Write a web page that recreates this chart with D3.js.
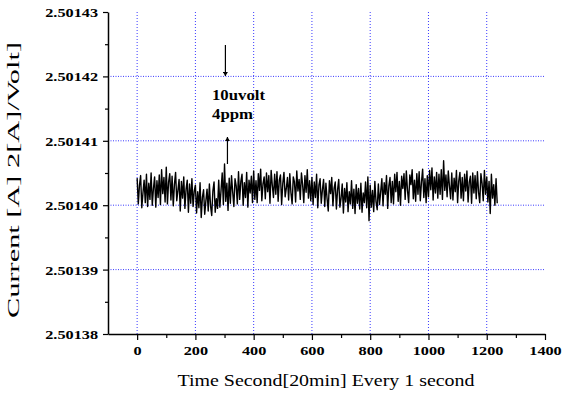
<!DOCTYPE html>
<html>
<head>
<meta charset="utf-8">
<script src="https://cdn.jsdelivr.net/npm/d3@7"></script>
<style>
  body { margin: 0; background: #fff; }
  svg { display: block; font-family: "Liberation Serif", "Times New Roman", serif; }
</style>
</head>
<body>
<svg id="chart" width="562" height="397"></svg>
<script>
// readings taken every 4 s, stored as offset from 2.50140 in units of 1e-6
const baseline = 2.50140;
const sampleStep = 4;
const offsetMicro = [
  4.2, 0.2, 3.1, 4.6, -0.4, 1.9, 3.9, 0.4, 4.8, -0.2,
  3.4, 0.9, 5.0, 0.0, 2.6, 4.4, -0.3, 3.8, 1.2, 4.7,
  0.1, 5.5, 1.8, 4.3, 0.5, 5.9, 0.2, 3.6, 4.9, 0.8,
  4.5, -0.1, 3.2, 5.1, 0.7, 2.3, 4.0, -0.9, 3.7, 1.1,
  4.4, -0.5, 2.5, 3.9, -1.1, 3.3, 0.3, 4.1, -0.2, 2.2,
  3.1, -1.2, 2.1, -0.4, 3.5, -1.9, 1.2, 2.4, -1.4, 0.7,
  2.5, -0.9, 3.3, -0.1, -1.6, 2.2, 3.6, -1.1, 1.0, -0.5,
  3.9, -0.3, 2.3, 5.0, 0.1, 6.4, 0.6, 3.4, -0.8, 4.2,
  0.3, 4.6, 2.0, -0.2, 4.1, 3.0, 0.2, 5.2, 0.9, 3.7,
  4.8, 0.0, 3.5, 1.2, 5.1, -0.3, 3.9, 1.9, 4.5, 0.4,
  5.3, 0.9, 3.8, 0.4, 4.9, 2.3, 5.6, 0.7, 3.3, 4.4,
  1.0, 5.0, 2.1, 4.6, 0.3, 5.4, 3.1, 1.2, 4.8, 1.7,
  5.2, 0.6, 3.9, 4.7, 0.1, 3.4, 5.1, 1.3, 2.6, 4.3,
  0.8, 4.9, 1.9, 0.2, 4.4, 3.6, 0.5, 5.3, 2.2, 4.0,
  0.9, 5.0, 3.2, 0.4, 4.6, 2.0, 5.5, 1.1, 3.8, 0.7,
  4.3, 0.1, 3.6, 1.2, 4.8, -0.4, 3.1, 4.1, 0.3, 2.4,
  4.0, -0.2, 3.4, 1.0, -0.9, 3.8, 1.8, 4.3, -0.1, 2.6,
  3.6, -0.6, 2.4, 4.0, -0.3, 1.1, 3.3, -1.2, 2.6, 0.5,
  3.5, -1.0, 2.1, 0.2, 3.8, -0.5, 2.5, -1.3, 3.2, 0.3,
  2.6, -0.6, 3.4, -1.1, 1.9, 0.4, 3.6, -0.4, 4.4, -2.4,
  3.1, -0.3, 2.3, -1.0, 3.7, 0.5, -0.7, 3.3, 0.1, 2.1,
  4.1, -0.1, 3.5, 1.7, 4.6, -0.5, 3.0, 4.3, 0.4, 3.7,
  0.2, 4.8, 2.1, 5.1, 0.6, 3.7, 0.0, 4.5, 2.6, 4.9,
  0.9, 5.3, 2.3, 0.4, 4.7, 3.2, 5.5, 1.0, 3.9, 0.6,
  4.9, 1.7, 5.2, 0.7, 3.6, 5.6, 1.2, 4.1, 0.4, 4.6,
  1.3, 5.4, 2.4, 5.8, 0.8, 4.4, 1.9, 5.1, 1.1, 4.8,
  1.7, 5.5, 0.9, 6.9, 2.3, 4.7, 1.3, 5.3, 3.0, 1.0,
  5.0, 0.8, 4.2, 2.1, 5.4, 0.4, 3.8, 5.1, 1.1, 4.3,
  0.7, 4.8, 2.2, 5.3, 0.5, 3.6, 4.5, 0.3, 5.0, 1.9,
  4.6, 1.0, 5.2, 2.0, 0.4, 4.9, 3.4, 0.7, 5.4, 1.7,
  4.4, 0.5, 3.7, -1.3, 4.8, 1.1, 3.2, 0.0, 4.1, 0.3
];

const xTicks = [0, 200, 400, 600, 800, 1000, 1200, 1400];
const xMinorTicks = [100, 300, 500, 700, 900, 1100, 1300];
const xGrid = [0, 200, 400, 600, 800, 1000, 1200];
const yTicks = [2.50138, 2.50139, 2.50140, 2.50141, 2.50142, 2.50143];
const yMinorTicks = [2.501385, 2.501395, 2.501405, 2.501415, 2.501425];
const yGrid = [2.50139, 2.50140, 2.50141, 2.50142];

const xTitle = "Time Second[20min] Every 1 second";
const yTitle = "Current  [A]  2[A]/Volt]";
const noteLines = ["10uvolt", "4ppm"];

const svg = d3.select("#chart");
const plotLeft = 108, plotRight = 545, plotTop = 12, plotBottom = 334;
const stretch = 1.25;  // the source image is stretched horizontally

const x = d3.scaleLinear().domain([-100, 1400]).range([plotLeft, plotRight]);
const y = d3.scaleLinear().domain([2.50138, 2.50143]).range([plotBottom, plotTop]);

const series = offsetMicro.map((v, i) => ({ t: i * sampleStep, v: baseline + v * 1e-6 }));

// grid
svg.append("g").selectAll("line").data(xGrid).join("line")
  .attr("x1", d => x(d)).attr("x2", d => x(d))
  .attr("y1", plotTop).attr("y2", plotBottom)
  .attr("stroke", "#3a3aff").attr("stroke-width", 1)
  .attr("stroke-dasharray", "1,2");

svg.append("g").selectAll("line").data(yGrid).join("line")
  .attr("x1", plotLeft).attr("x2", plotRight)
  .attr("y1", d => y(d)).attr("y2", d => y(d))
  .attr("stroke", "#3a3aff").attr("stroke-width", 1)
  .attr("stroke-dasharray", "1,1.5");

// trace
svg.append("path")
  .datum(series)
  .attr("fill", "none")
  .attr("stroke", "#000")
  .attr("stroke-width", 1.4)
  .attr("stroke-linejoin", "round")
  .attr("d", d3.line().x(d => x(d.t)).y(d => y(d.v)));

// axes
const xAxis = svg.append("g")
  .attr("transform", `translate(0,${plotBottom})`)
  .call(d3.axisBottom(x).tickValues(xTicks).tickSize(6).tickSizeOuter(0).tickPadding(6).tickFormat(d3.format("d")));
svg.append("g")
  .attr("transform", `translate(0,${plotBottom})`)
  .call(d3.axisBottom(x).tickValues(xMinorTicks).tickSize(4).tickFormat("").tickSizeOuter(0))
  .call(g => g.select(".domain").remove());

const yAxis = svg.append("g")
  .attr("transform", `translate(${plotLeft},0)`)
  .call(d3.axisLeft(y).tickValues(yTicks).tickSize(5).tickSizeOuter(0).tickPadding(3).tickFormat(d3.format(".5f")));
svg.append("g")
  .attr("transform", `translate(${plotLeft},0)`)
  .call(d3.axisLeft(y).tickValues(yMinorTicks).tickSize(3).tickFormat("").tickSizeOuter(0))
  .call(g => g.select(".domain").remove());

svg.selectAll("g[font-family]").attr("font-family", null).attr("font-size", null);
svg.selectAll(".domain").attr("stroke-width", 1.5);
svg.selectAll(".tick line").attr("stroke-width", 1.2);

xAxis.selectAll("text")
  .attr("font-size", 13).attr("font-weight", "bold")
  .attr("fill", "#000")
  .attr("transform", `scale(${stretch},1)`);

yAxis.selectAll("text")
  .attr("font-size", 13).attr("font-weight", "bold")
  .attr("fill", "#000")
  .attr("dy", "0.34em")
  .attr("transform", `scale(${stretch},1)`);

// axis titles
svg.append("text")
  .attr("x", 326).attr("y", 386)
  .attr("text-anchor", "middle")
  .attr("font-size", 16)
  .attr("textLength", 297).attr("lengthAdjust", "spacingAndGlyphs")
  .text(xTitle);

svg.append("text")
  .attr("transform", "translate(19,180) rotate(-90)")
  .attr("text-anchor", "middle")
  .attr("font-size", 16)
  .attr("textLength", 276).attr("lengthAdjust", "spacingAndGlyphs")
  .text(yTitle);

// annotation
const defs = svg.append("defs");
defs.append("marker")
  .attr("id", "head").attr("viewBox", "0 0 8 10")
  .attr("refX", 8).attr("refY", 5)
  .attr("markerWidth", 8).attr("markerHeight", 5)
  .attr("markerUnits", "userSpaceOnUse")
  .attr("orient", "auto")
  .append("path").attr("d", "M0,0 L8,5 L0,10 Z").attr("fill", "#000");

svg.append("line")
  .attr("x1", x(303)).attr("x2", x(303))
  .attr("y1", 45).attr("y2", 76)
  .attr("stroke", "#000").attr("stroke-width", 1.2)
  .attr("marker-end", "url(#head)");

svg.append("line")
  .attr("x1", x(310)).attr("x2", x(310))
  .attr("y1", 164).attr("y2", 137)
  .attr("stroke", "#000").attr("stroke-width", 1.2)
  .attr("marker-end", "url(#head)");

svg.append("g").selectAll("text").data(noteLines).join("text")
  .attr("x", 212).attr("y", (d, i) => 100 + i * 19)
  .attr("font-size", 15).attr("font-weight", "bold")
  .attr("textLength", (d, i) => i === 0 ? 53 : 41)
  .attr("lengthAdjust", "spacingAndGlyphs")
  .text(d => d);
</script>
</body>
</html>
